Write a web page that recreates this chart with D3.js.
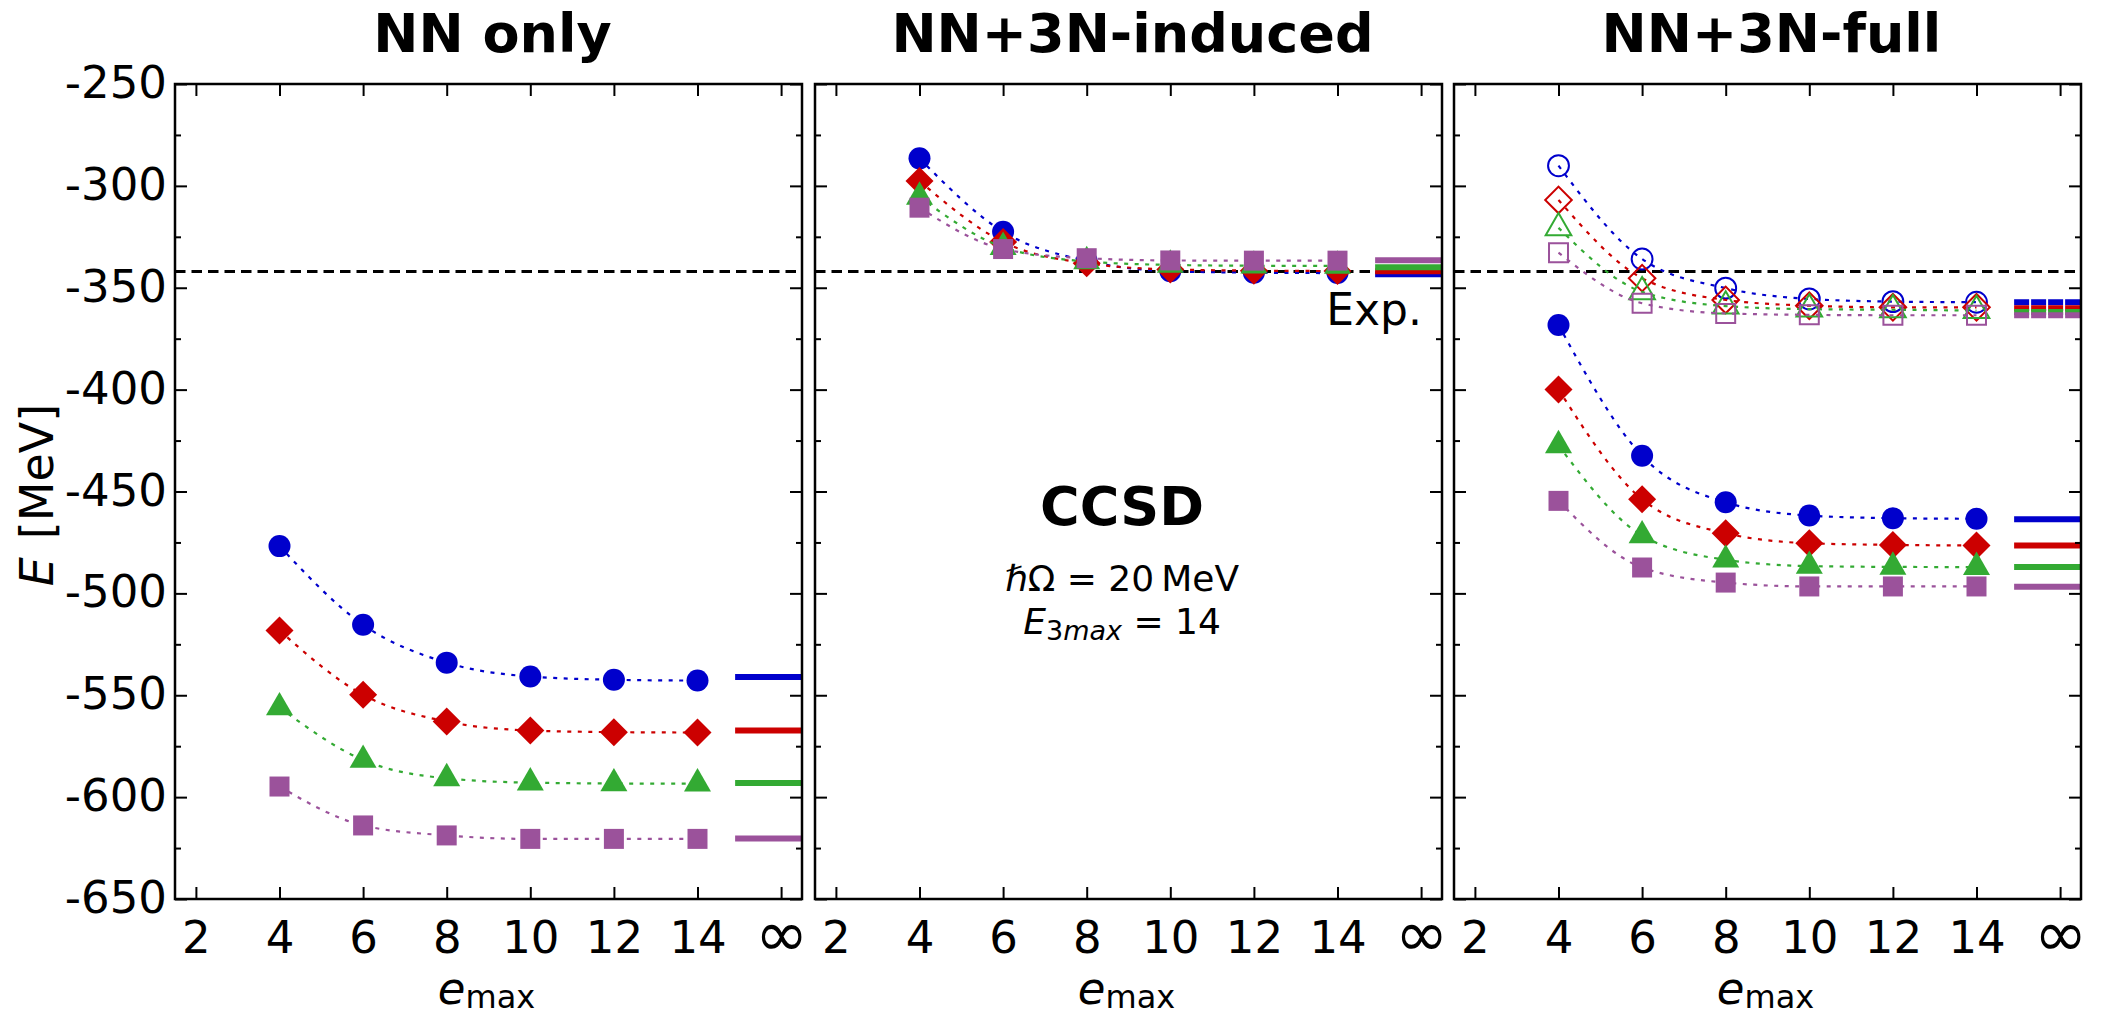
<!DOCTYPE html>
<html>
<head>
<meta charset="utf-8">
<script src="https://cdn.jsdelivr.net/npm/d3@7"></script>
<style>
body { margin: 0; background: #fff; }
text { font-family: "DejaVu Sans", sans-serif; fill: #000; }
</style>
</head>
<body>
<svg id="chart" width="2104" height="1018"></svg>
<script>
var width = 2104,
    height = 1018;
var panelLeft = [175, 815, 1454]; //left edge of each panel
var panelTop = 84;
var panelW = 627,
    panelH = 815;

// data
var emax = [4, 6, 8, 10, 12, 14];
var xTicks = [2, 4, 6, 8, 10, 12, 14, 16];
var xTickLabels = ["2", "4", "6", "8", "10", "12", "14", "\u221e"];
var yTicks = [-650, -600, -550, -500, -450, -400, -350, -300, -250];
var yMinor = [-625, -575, -525, -475, -425, -375, -325, -275];
var titles = ["NN only", "NN+3N-induced", "NN+3N-full"];
var expValue = -342.05;

// NN only
var nnCircle   = [-476.8, -515.4, -534.0, -540.8, -542.4, -542.8];
var nnDiamond  = [-518.2, -549.8, -562.9, -567.3, -568.1, -568.3];
var nnTriangle = [-556.0, -581.8, -590.8, -592.9, -593.3, -593.4];
var nnSquare   = [-594.8, -613.9, -618.8, -620.5, -620.5, -620.5];
var nnInf      = [-541.0, -567.3, -593.1, -620.3];

// NN+3N-induced
var indCircle   = [-286.5, -322.5, -336.8, -341.9, -342.6, -342.8];
var indDiamond  = [-297.6, -327.5, -338.0, -341.0, -341.6, -341.8];
var indTriangle = [-305.4, -330.1, -337.1, -338.8, -339.2, -339.3];
var indSquare   = [-310.7, -331.0, -335.5, -336.6, -336.7, -336.7];
var indInf      = [-343.4, -341.9, -339.9, -336.5];

// NN+3N-full, open markers
var openCircle   = [-290.1, -335.9, -350.2, -355.5, -356.8, -357.1];
var openDiamond  = [-306.9, -345.3, -356.0, -358.8, -359.6, -359.6];
var openTriangle = [-320.6, -352.0, -359.0, -360.5, -360.8, -361.2];
var openSquare   = [-332.8, -357.6, -362.6, -363.3, -363.5, -363.5];
var openInf      = [-357.1, -360.0, -361.9, -363.5];

// NN+3N-full, filled markers
var fullCircle   = [-368.3, -432.5, -455.3, -461.8, -463.1, -463.4];
var fullDiamond  = [-399.9, -453.8, -470.5, -475.4, -476.2, -476.5];
var fullTriangle = [-427.4, -471.6, -483.5, -486.6, -487.0, -487.1];
var fullSquare   = [-454.6, -487.3, -494.7, -496.6, -496.6, -496.6];
var fullInf      = [-463.6, -476.5, -487.1, -496.8];

var colors = ["#0000cc", "#cc0000", "#33aa33", "#9b529b"];

var panels = [
  [{ series: [nnCircle, nnDiamond, nnTriangle, nnSquare], inf: nnInf, open: false }],
  [{ series: [indCircle, indDiamond, indTriangle, indSquare], inf: indInf, open: false }],
  [{ series: [openCircle, openDiamond, openTriangle, openSquare], inf: openInf, open: true },
   { series: [fullCircle, fullDiamond, fullTriangle, fullSquare], inf: fullInf, open: false }]
];

var x = d3.scaleLinear().domain([1.5, 16.5]).range([0, panelW]);
var y = d3.scaleLinear().domain([-650, -250]).range([panelH, 0]);

function markerPath(i, open) {
  var k = open ? 0.9 : 1;
  if (i == 0) return d3.symbol(d3.symbolCircle, Math.PI * 11 * 11 * k)();
  if (i == 1) return d3.symbol(d3.symbolSquare, 392 * k)();
  if (i == 2) return d3.symbol(d3.symbolTriangle, 316 * k)();
  return d3.symbol(d3.symbolSquare, 400 * k)();
}

var chart = d3.select("#chart");

var curve = d3.line()
  .x(function(d) { return x(d[0]); })
  .y(function(d) { return y(d[1]); })
  .curve(d3.curveMonotoneX);

panels.forEach(function(groups, p) {
  var g = chart.append("g").attr("transform", "translate(" + panelLeft[p] + "," + panelTop + ")");

  g.append("clipPath").attr("id", "clip" + p)
    .append("rect").attr("width", panelW).attr("height", panelH);

  var plot = g.append("g").attr("clip-path", "url(#clip" + p + ")");

  plot.append("line") //experiment
    .attr("x1", 0).attr("x2", panelW)
    .attr("y1", y(expValue)).attr("y2", y(expValue))
    .attr("stroke", "#000").attr("stroke-width", 3)
    .attr("stroke-dasharray", "10.5,6");

  groups.forEach(function(grp) {
    grp.series.forEach(function(vals, i) {
      var pts = emax.map(function(e, j) { return [e, vals[j]]; });
      plot.append("path")
        .attr("d", curve(pts))
        .attr("fill", "none")
        .attr("stroke", colors[i])
        .attr("stroke-width", 2.2)
        .attr("stroke-dasharray", "4,6.5");
      plot.selectAll(null).data(pts).enter().append("path")
        .attr("d", markerPath(i, grp.open))
        .attr("transform", function(d) {
          return "translate(" + x(d[0]) + "," + y(d[1]) + ")" + (i == 1 ? " rotate(45)" : "");
        })
        .attr("fill", grp.open ? "none" : colors[i])
        .attr("stroke", grp.open ? colors[i] : "none")
        .attr("stroke-width", 2);
    });
    grp.inf.forEach(function(v, i) { //extrapolated values
      plot.append("line")
        .attr("x1", x(14.9)).attr("x2", x(16.6))
        .attr("y1", y(v)).attr("y2", y(v))
        .attr("stroke", colors[i])
        .attr("stroke-width", 6)
        .attr("stroke-dasharray", grp.open ? "15,2" : null);
    });
  });

  // axes, ticks pointing inward
  var bottom = g.append("g").attr("transform", "translate(0," + panelH + ")")
    .call(d3.axisBottom(x).tickValues(xTicks).tickSize(-12).tickPadding(22)
      .tickFormat(function(d, i) { return xTickLabels[i]; }));
  bottom.selectAll("text").style("font-size", function(d) { return d == 16 ? "64px" : "45px"; });

  g.append("g")
    .call(d3.axisTop(x).tickValues(xTicks).tickSize(-12).tickFormat(""));

  var left = g.append("g")
    .call(d3.axisLeft(y).tickValues(yTicks).tickSize(-12).tickPadding(8)
      .tickFormat(function(d) { return p == 0 ? String(d) : ""; }));
  left.selectAll("text").style("font-size", "45px").attr("dy", "0.3em");
  g.append("g").call(d3.axisLeft(y).tickValues(yMinor).tickSize(-6).tickFormat(""));

  g.append("g").attr("transform", "translate(" + panelW + ",0)")
    .call(d3.axisRight(y).tickValues(yTicks).tickSize(-12).tickFormat(""));
  g.append("g").attr("transform", "translate(" + panelW + ",0)")
    .call(d3.axisRight(y).tickValues(yMinor).tickSize(-6).tickFormat(""));

  g.selectAll(".domain").remove();
  g.selectAll(".tick line").attr("stroke", "#000").attr("stroke-width", 2);
  g.selectAll(".tick text").style("font-family", "DejaVu Sans").attr("fill", "#000");
  bottom.selectAll(".tick text").filter(function(d) { return d == 16; }).attr("dy", "0.55em");

  g.append("rect") //frame
    .attr("width", panelW).attr("height", panelH)
    .attr("fill", "none").attr("stroke", "#000").attr("stroke-width", 2.5);

  chart.append("text") //title
    .attr("x", panelLeft[p] + panelW / 2 + 4)
    .attr("y", 52)
    .attr("text-anchor", "middle")
    .style("font-size", "54px").style("font-weight", "bold")
    .text(titles[p]);

  var xl = chart.append("text") //x label
    .attr("x", panelLeft[p] + panelW / 2 - 2)
    .attr("y", 1004)
    .attr("text-anchor", "middle")
    .style("font-size", "45px");
  xl.append("tspan").style("font-style", "italic").text("e");
  xl.append("tspan").style("font-size", "32px").attr("dy", 4).text("max");
});

// y label
var yl = chart.append("text")
  .attr("transform", "translate(53,495) rotate(-90)")
  .attr("text-anchor", "middle")
  .style("font-size", "46px");
yl.append("tspan").style("font-style", "italic").text("E");
yl.append("tspan").attr("dx", 18).text("[MeV]");

chart.append("text")
  .attr("x", 1422).attr("y", 325)
  .attr("text-anchor", "end")
  .style("font-size", "44px")
  .text("Exp.");

chart.append("text")
  .attr("x", 1122).attr("y", 525)
  .attr("text-anchor", "middle")
  .style("font-size", "54px").style("font-weight", "bold")
  .text("CCSD");

var hw = chart.append("text")
  .attr("x", 1122).attr("y", 591)
  .attr("text-anchor", "middle")
  .style("font-size", "36px");
hw.append("tspan").style("font-style", "italic").text("\u210f");
hw.append("tspan").text("\u03a9 = 20\u2009MeV");

var e3 = chart.append("text")
  .attr("x", 1122).attr("y", 634)
  .attr("text-anchor", "middle")
  .style("font-size", "36px");
e3.append("tspan").style("font-style", "italic").text("E");
e3.append("tspan").style("font-size", "27px").attr("dy", 6).text("3");
e3.append("tspan").style("font-size", "27px").style("font-style", "italic").text("max");
e3.append("tspan").attr("dy", -6).text(" = 14");
</script>
</body>
</html>
